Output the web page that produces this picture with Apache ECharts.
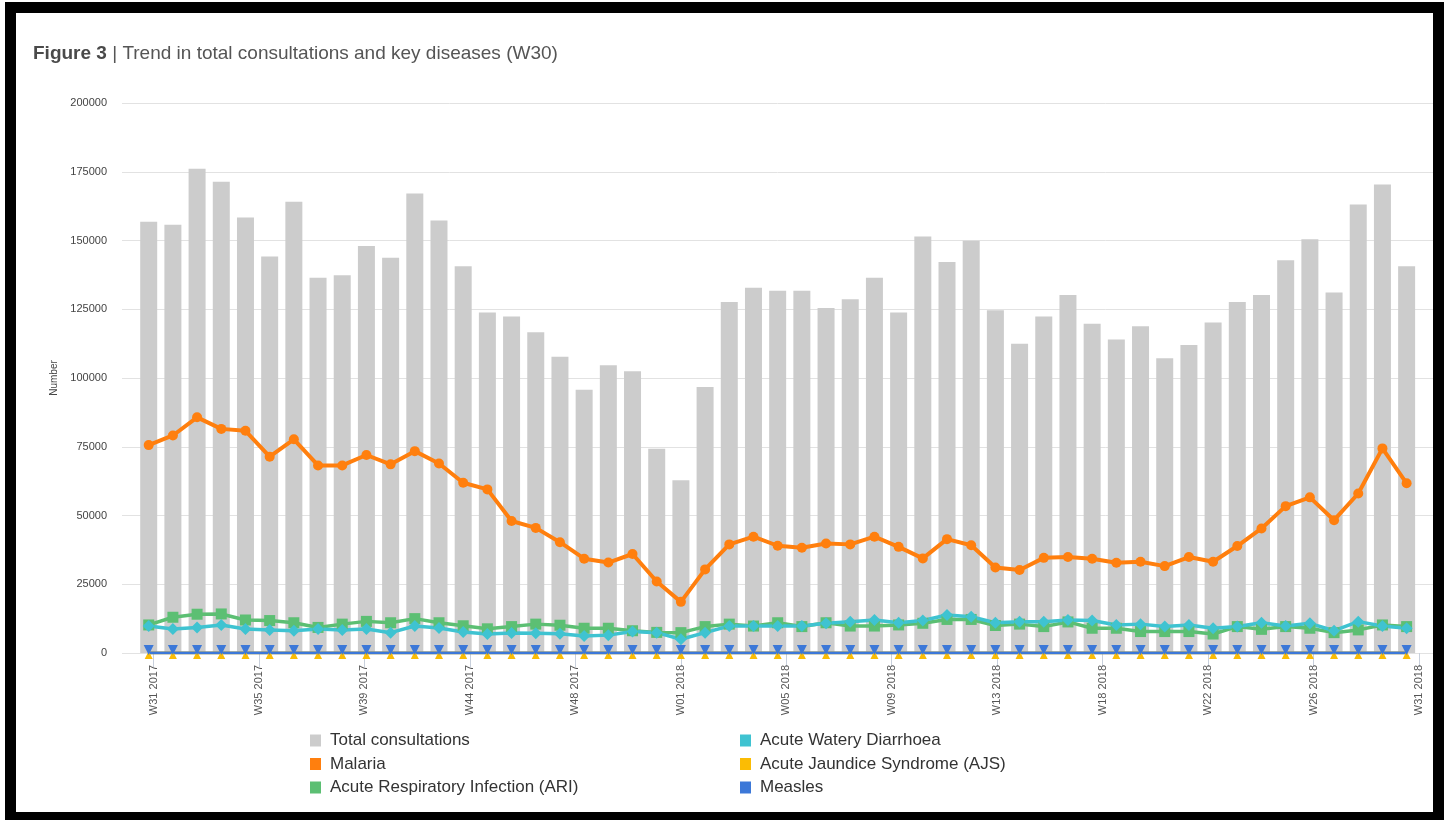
<!DOCTYPE html>
<html>
<head>
<meta charset="utf-8">
<script src="https://cdn.jsdelivr.net/npm/echarts@6/dist/echarts.min.js"></script>
<style>
html,body{margin:0;padding:0;background:#fff;}
#chart{width:1450px;height:820px;}
</style>
</head>
<body>
<div id="chart"></div>
<script>
const weeks = ['W31 2017','W32 2017','W33 2017','W34 2017','W35 2017','W36 2017','W37 2017','W38 2017','W39 2017','W40 2017','W41 2017','W42 2017','W43 2017','W44 2017','W45 2017','W46 2017','W47 2017','W48 2017','W49 2017','W50 2017','W51 2017','W52 2017',
  'W01 2018','W02 2018','W03 2018','W04 2018','W05 2018','W06 2018','W07 2018','W08 2018','W09 2018','W10 2018','W11 2018','W12 2018','W13 2018','W14 2018','W15 2018','W16 2018','W17 2018','W18 2018','W19 2018','W20 2018','W21 2018','W22 2018','W23 2018','W24 2018','W25 2018','W26 2018','W27 2018','W28 2018','W29 2018','W30 2018','W31 2018'];

const tickLabels = ['W31 2017','W35 2017','W39 2017','W44 2017','W48 2017','W01 2018','W05 2018','W09 2018','W13 2018','W18 2018','W22 2018','W26 2018','W31 2018'];

const totalConsultations = [156800,155700,176100,171400,158400,144200,164100,136500,137400,148000,143700,167100,157300,140600,123800,122400,116600,107700,95700,104600,102500,74300,62800,96700,127600,132800,131700,131700,125500,128600,136500,123800,151500,142200,149900,124600,112500,122400,130200,119700,114000,118800,107200,112000,120200,127600,130200,142800,150500,131100,163100,170400,140600];

const malaria = [75600,79100,85700,81500,80800,71400,77700,68200,68200,72000,68600,73400,68900,61900,59500,48000,45500,40300,34300,32900,36000,26000,18600,30400,39500,42300,39000,38300,39800,39500,42300,38600,34400,41400,39200,31100,30200,34600,34900,34300,32800,33200,31600,34900,33200,38900,45300,53400,56600,48300,58000,74400,61700];

const ari = [10200,13000,14100,14200,12000,11800,11000,9300,10500,11500,11000,12500,11000,9900,8800,9600,10500,10100,9000,9000,8100,7500,7400,9600,10500,9800,11000,9600,11000,9800,9800,10200,10800,12200,12200,10000,10500,9600,11300,9000,9000,7800,7800,7800,6900,9600,8600,9600,9000,7400,8400,10200,9600];

const awd = [9800,8700,9300,10200,8700,8400,8100,8700,8400,8700,7400,9800,9100,7600,6900,7300,7200,7000,6200,6500,7800,7400,5000,7400,9800,9800,9800,9800,10800,11400,12000,11000,11800,13800,13200,11000,11400,11400,12000,11800,10200,10500,9600,10200,9000,9600,11000,9800,10800,8100,11400,9800,9000];

const ajs = [0,0,0,0,0,0,0,0,0,0,0,0,0,0,0,0,0,0,0,0,0,0,0,0,0,0,0,0,0,0,0,0,0,0,0,0,0,0,0,0,0,0,0,0,0,0,0,0,0,0,0,0,0];

const measles = [0,0,0,0,0,0,0,0,0,0,0,0,0,0,0,0,0,0,0,0,0,0,0,0,0,0,0,0,0,0,0,0,0,0,0,0,0,0,0,0,0,0,0,0,0,0,0,0,0,0,0,0,0];

const yTicks = [0,25000,50000,75000,100000,125000,150000,175000,200000];

// layout
const FONT = '"Liberation Sans", Arial, sans-serif';
const firstTick = 0.198, lastTick = 52.51;
const tickPos = tickLabels.map((_, k) => firstTick + k * (lastTick - firstTick) / (tickLabels.length - 1));
const pair = arr => arr.map((v, i) => [i, v]);

const chart = echarts.init(document.getElementById('chart'), null, {renderer: 'canvas'});

const lineBase = (name, data, color, extra) => Object.assign({
  name, type: 'line', data: pair(data),
  itemStyle: {color},
  lineStyle: {color, width: 3.5},
  emphasis: {disabled: true},
  z: 3
}, extra);

const legendCommon = {
  orient: 'vertical', top: 732, padding: 0,
  icon: 'rect', itemWidth: 11, itemHeight: 12, itemGap: 6.5,
  textStyle: {fontFamily: FONT, fontSize: 17, color: '#333', padding: [0, 0, 0, 4]},
  selectedMode: false
};

chart.setOption({
  animation: false,
  textStyle: {fontFamily: FONT},
  title: {
    text: '{b|Figure 3} | Trend in total consultations and key diseases (W30)',
    left: 33, top: 44, padding: 0,
    textStyle: {
      fontFamily: FONT, fontSize: 19, fontWeight: 'normal', color: '#555',
      rich: {b: {fontFamily: FONT, fontSize: 19, fontWeight: 'bold', color: '#4a4a4a'}}
    }
  },
  graphic: [{
    type: 'rect', silent: true, z: 100,
    shape: {x: 10.5, y: 7.5, width: 1428, height: 810},
    style: {fill: 'none', stroke: '#000', lineWidth: 11}
  }],
  legend: [
    Object.assign({}, legendCommon, {left: 310, data: ['Total consultations', 'Malaria', 'Acute Respiratory Infection (ARI)']}),
    Object.assign({}, legendCommon, {left: 740, data: ['Acute Watery Diarrhoea', 'Acute Jaundice Syndrome (AJS)', 'Measles']})
  ],
  grid: {left: 122, right: 17, top: 103, bottom: 167, containLabel: false},
  xAxis: {
    type: 'value', min: -1.104, max: 53.09,
    axisLine: {show: false},
    splitLine: {show: false},
    axisTick: {show: true, length: 14, lineStyle: {color: '#c8d0dc'}, customValues: tickPos},
    axisLabel: {
      customValues: tickPos, rotate: 90, margin: 12, fontSize: 11, color: '#555', fontFamily: FONT,
      formatter: function (v) {
        let best = 0, d = Infinity;
        tickPos.forEach((p, k) => { if (Math.abs(p - v) < d) { d = Math.abs(p - v); best = k; } });
        return tickLabels[best];
      }
    }
  },
  yAxis: {
    type: 'value', min: yTicks[0], max: yTicks[yTicks.length - 1], interval: yTicks[1] - yTicks[0],
    name: 'Number', nameLocation: 'middle', nameGap: 55,
    nameTextStyle: {fontSize: 10, color: '#444', fontFamily: FONT},
    axisLine: {show: false}, axisTick: {show: false},
    axisLabel: {fontSize: 11, color: '#444', margin: 15, fontFamily: FONT, formatter: v => String(v)},
    splitLine: {lineStyle: {color: '#e2e2e2', width: 1}}
  },
  series: [
    {
      name: 'Total consultations', type: 'bar', data: pair(totalConsultations),
      barWidth: 17, itemStyle: {color: '#cccccc'}, emphasis: {disabled: true}, z: 1
    },
    lineBase('Malaria', malaria, '#ff7f0e', {symbol: 'circle', symbolSize: 10, lineStyle: {color: '#ff7f0e', width: 4}}),
    lineBase('Acute Respiratory Infection (ARI)', ari, '#5cbf73', {symbol: 'rect', symbolSize: 11}),
    lineBase('Acute Watery Diarrhoea', awd, '#3fc3d1', {symbol: 'diamond', symbolSize: 12}),
    lineBase('Acute Jaundice Syndrome (AJS)', ajs, '#fbbc04', {symbol: 'triangle', symbolSize: 8, symbolOffset: [0, 2], lineStyle: {color: '#fbbc04', width: 3}}),
    lineBase('Measles', measles, '#3c78d8', {symbol: 'triangle', symbolRotate: 180, symbolSize: 10, symbolOffset: [0, -3], lineStyle: {color: '#3c78d8', width: 3}})
  ]
});
</script>
</body>
</html>
